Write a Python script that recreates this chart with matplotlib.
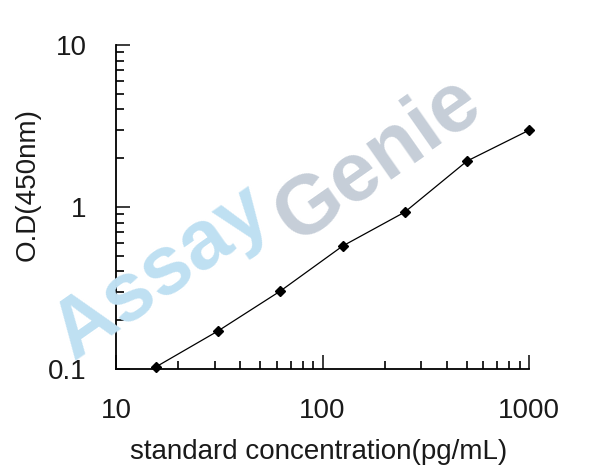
import matplotlib
matplotlib.use('Agg')
import matplotlib.pyplot as plt
from matplotlib.ticker import LogLocator, NullFormatter, FixedLocator, FixedFormatter

# standard curve readings
concentration = [15.6, 31.25, 62.5, 125, 250, 500, 1000]
od_450 = [0.103, 0.172, 0.303, 0.574, 0.93, 1.92, 2.98]

x_ticks = [10, 100, 1000]
x_tick_labels = ['10', '100', '1000']
y_ticks = [0.1, 1, 10]
y_tick_labels = ['0.1', '1', '10']

plt.rcParams['font.family'] = ['Liberation Sans', 'DejaVu Sans']

fig = plt.figure(figsize=(6.08, 4.76), dpi=100)
ax = fig.add_axes([0.1908, 0.2248, 0.6795, 0.6807])

ax.plot(concentration, od_450, color='black', lw=0.9, marker='D', ms=5.5,
        mec='black', mfc='black', zorder=3, clip_on=False)

ax.set_xscale('log')
ax.set_yscale('log')
ax.set_xlim(10, 1000)
ax.set_ylim(0.1, 10)

ax.xaxis.set_major_locator(FixedLocator(x_ticks))
ax.xaxis.set_major_formatter(FixedFormatter(x_tick_labels))
ax.yaxis.set_major_locator(FixedLocator(y_ticks))
ax.yaxis.set_major_formatter(FixedFormatter(y_tick_labels))
for axis in (ax.xaxis, ax.yaxis):
    axis.set_minor_locator(LogLocator(base=10, subs=range(2, 10)))
    axis.set_minor_formatter(NullFormatter())

ax.tick_params(which='major', direction='in', length=10, width=1.2,
               labelsize=20, pad=21, colors='#1a1a1a')
ax.tick_params(which='minor', direction='in', length=6, width=1.2)

for side in ('top', 'right'):
    ax.spines[side].set_visible(False)
for side in ('left', 'bottom'):
    ax.spines[side].set_linewidth(1.3)

ax.set_xlabel('standard concentration(pg/mL)', fontsize=20, color='#1a1a1a', va='center')
ax.set_ylabel('O.D(450nm)', fontsize=20, color='#1a1a1a', va='center')
ax.xaxis.set_label_coords(0.49, -0.256)
ax.yaxis.set_label_coords(-0.215, 0.568)

# watermark
fig.text(162 / 608, 1 - 273 / 476, 'Assay', fontsize=60, fontweight='bold',
         color='#bfe0f2', rotation=35, ha='center', va='center', zorder=0)
fig.text(378 / 608, 1 - 160 / 476, 'Genie', fontsize=60, fontweight='bold',
         color='#c6ced8', rotation=35, ha='center', va='center', zorder=0)

fig.savefig('out.png', dpi=100)
